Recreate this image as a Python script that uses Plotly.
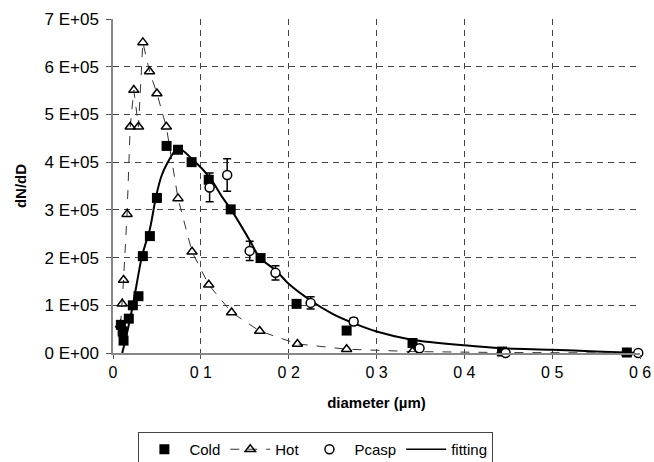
import plotly.graph_objects as go

# Cold (filled squares)
cold_x = [0.009, 0.011, 0.012, 0.018, 0.0226, 0.029, 0.034, 0.042, 0.050, 0.061, 0.074, 0.0895, 0.109, 0.134, 0.168, 0.209, 0.266, 0.341, 0.443, 0.585]
cold_y = [0.59e5, 0.45e5, 0.26e5, 0.72e5, 1.0e5, 1.19e5, 2.03e5, 2.45e5, 3.25e5, 4.34e5, 4.26e5, 4.0e5, 3.63e5, 3.01e5, 1.99e5, 1.03e5, 0.47e5, 0.21e5, 0.03e5, 0.01e5]

# Hot (open triangles, dashed)
hot_x = [0.0086, 0.0105, 0.012, 0.016, 0.0196, 0.0237, 0.029, 0.034, 0.0416, 0.050, 0.0607, 0.074, 0.090, 0.109, 0.135, 0.167, 0.21, 0.266, 0.341, 0.443, 0.585]
hot_y = [0.59e5, 1.03e5, 1.53e5, 2.91e5, 4.74e5, 5.51e5, 4.74e5, 6.51e5, 5.9e5, 5.44e5, 4.74e5, 3.24e5, 2.12e5, 1.43e5, 0.85e5, 0.46e5, 0.19e5, 0.08e5, 0.03e5, 0.01e5, 0.0]

# Pcasp (open circles with error bars)
pcasp_x = [0.110, 0.130, 0.1556, 0.185, 0.225, 0.274, 0.349, 0.447, 0.598]
pcasp_y = [3.47e5, 3.73e5, 2.14e5, 1.68e5, 1.05e5, 0.66e5, 0.10e5, 0.0, 0.0]
pcasp_err = [0.30e5, 0.34e5, 0.20e5, 0.15e5, 0.13e5, 0.07e5, 0.0, 0.0, 0.0]

# fitting curve
fit_x = [0.0105, 0.015, 0.0226, 0.033, 0.042, 0.049, 0.055, 0.061, 0.074, 0.091, 0.110, 0.125, 0.134, 0.156, 0.167, 0.186, 0.20, 0.225, 0.25, 0.273, 0.30, 0.34, 0.40, 0.443, 0.50, 0.55, 0.60]
fit_y = [0.0, 0.34e5, 1.0e5, 2.03e5, 2.6e5, 3.28e5, 3.7e5, 3.95e5, 4.29e5, 4.05e5, 3.68e5, 3.25e5, 3.02e5, 2.35e5, 2.0e5, 1.72e5, 1.45e5, 1.10e5, 0.82e5, 0.63e5, 0.45e5, 0.28e5, 0.16e5, 0.1e5, 0.07e5, 0.03e5, 0.0]

x_ticks = [0, 0.1, 0.2, 0.3, 0.4, 0.5, 0.6]
x_ticktext = ["0", "0 1", "0 2", "0 3", "0 4", "0 5", "0 6"]
y_ticks = [0, 1e5, 2e5, 3e5, 4e5, 5e5, 6e5, 7e5]
y_ticktext = ["0 E+00", "1 E+05", "2 E+05", "3 E+05", "4 E+05", "5 E+05", "6 E+05", "7 E+05"]

fig = go.Figure()

fig.add_trace(go.Scatter(
    x=fit_x, y=fit_y, mode="lines", name="fitting",
    line=dict(color="black", width=2, shape="spline", smoothing=0.8),
    showlegend=False))

fig.add_trace(go.Scatter(
    x=hot_x, y=hot_y, mode="lines+markers", name="Hot", legendrank=2,
    line=dict(color="#333", width=1, dash="dash"),
    marker=dict(symbol="triangle-up-open", size=9, color="black", line=dict(width=1.5)),
    cliponaxis=False))

fig.add_trace(go.Scatter(
    x=cold_x, y=cold_y, mode="markers", name="Cold", legendrank=1,
    marker=dict(symbol="square", size=10, color="black"),
    cliponaxis=False))

fig.add_trace(go.Scatter(
    x=pcasp_x, y=pcasp_y, mode="markers", name="Pcasp", legendrank=3,
    marker=dict(symbol="circle", size=9, color="white", line=dict(color="black", width=1.5)),
    error_y=dict(type="data", array=pcasp_err, visible=True, color="black", thickness=1.5, width=4),
    cliponaxis=False))

# legend-only fitting entry
fig.add_trace(go.Scatter(
    x=[None], y=[None], mode="lines", name="fitting", legendrank=4,
    line=dict(color="black", width=1.5)))

fig.update_layout(
    width=654, height=462,
    margin=dict(l=113, r=14, t=19, b=109, autoexpand=False),
    plot_bgcolor="white", paper_bgcolor="white",
    font=dict(family="Liberation Sans, Arial, sans-serif", size=16, color="black"),
    legend=dict(orientation="h", x=0.385, xanchor="center", y=-0.2365, yanchor="top",
                bordercolor="#444", borderwidth=1, font=dict(size=15),
                itemwidth=40, tracegroupgap=0),
    xaxis=dict(range=[0, 0.6], tickvals=x_ticks, ticktext=x_ticktext,
               showgrid=True, gridcolor="#444", griddash="6px,5px", gridwidth=1,
               showline=True, linecolor="#888", linewidth=1.5,
               ticks="outside", ticklen=4, tickcolor="#555",
               zeroline=False, tickfont=dict(size=16),
               title=dict(text="<b>diameter (µm)</b>", font=dict(size=15), standoff=18)),
    yaxis=dict(range=[0, 7e5], tickvals=y_ticks, ticktext=y_ticktext,
               showgrid=True, gridcolor="#444", griddash="6px,5px", gridwidth=1,
               showline=True, linecolor="#888", linewidth=1.5,
               ticks="outside", ticklen=5, tickcolor="#555",
               zeroline=False, tickfont=dict(size=17), ticklabelstandoff=4,
               title=dict(text="<b>dN/dD</b>", font=dict(size=15), standoff=14)),
)

fig.write_html("out.html")
